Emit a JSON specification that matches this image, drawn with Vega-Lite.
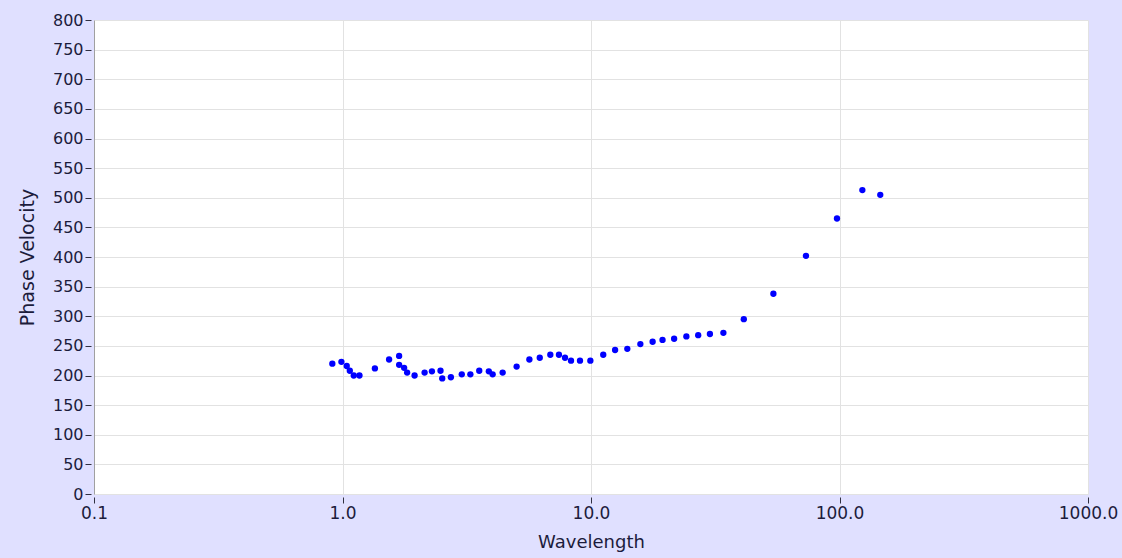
{
  "$schema": "https://vega.github.io/schema/vega-lite/v6.json",
  "width": 994,
  "height": 474,
  "autosize": {"type": "none"},
  "padding": {"left": 94, "top": 20, "right": 34, "bottom": 64},
  "background": "#E0E0FF",
  "config": {
    "view": {"fill": "white", "stroke": null},
    "font": "DejaVu Sans"
  },
  "data": {
    "values": [
      {"wavelength": 0.91, "velocity": 220},
      {"wavelength": 0.99, "velocity": 223},
      {"wavelength": 1.04, "velocity": 216},
      {"wavelength": 1.07, "velocity": 208},
      {"wavelength": 1.11, "velocity": 200},
      {"wavelength": 1.17, "velocity": 200},
      {"wavelength": 1.35, "velocity": 212},
      {"wavelength": 1.54, "velocity": 227},
      {"wavelength": 1.69, "velocity": 233},
      {"wavelength": 1.69, "velocity": 218},
      {"wavelength": 1.77, "velocity": 213},
      {"wavelength": 1.82, "velocity": 205},
      {"wavelength": 1.95, "velocity": 200},
      {"wavelength": 2.14, "velocity": 205},
      {"wavelength": 2.29, "velocity": 207},
      {"wavelength": 2.48, "velocity": 208},
      {"wavelength": 2.52, "velocity": 195},
      {"wavelength": 2.73, "velocity": 197},
      {"wavelength": 3.02, "velocity": 202},
      {"wavelength": 3.27, "velocity": 202},
      {"wavelength": 3.55, "velocity": 208},
      {"wavelength": 3.88, "velocity": 207},
      {"wavelength": 4.02, "velocity": 202},
      {"wavelength": 4.41, "velocity": 205},
      {"wavelength": 5.02, "velocity": 215},
      {"wavelength": 5.65, "velocity": 227},
      {"wavelength": 6.22, "velocity": 230},
      {"wavelength": 6.86, "velocity": 235},
      {"wavelength": 7.43, "velocity": 235},
      {"wavelength": 7.86, "velocity": 230},
      {"wavelength": 8.31, "velocity": 225},
      {"wavelength": 9.03, "velocity": 225},
      {"wavelength": 9.94, "velocity": 225},
      {"wavelength": 11.2, "velocity": 235},
      {"wavelength": 12.5, "velocity": 243},
      {"wavelength": 14.0, "velocity": 245},
      {"wavelength": 15.8, "velocity": 253},
      {"wavelength": 17.7, "velocity": 257},
      {"wavelength": 19.4, "velocity": 260},
      {"wavelength": 21.6, "velocity": 262},
      {"wavelength": 24.2, "velocity": 266},
      {"wavelength": 27.0, "velocity": 268},
      {"wavelength": 30.1, "velocity": 270},
      {"wavelength": 34.1, "velocity": 272},
      {"wavelength": 41.2, "velocity": 295},
      {"wavelength": 54.2, "velocity": 338},
      {"wavelength": 73.3, "velocity": 402},
      {"wavelength": 97.7, "velocity": 465},
      {"wavelength": 123.6, "velocity": 513},
      {"wavelength": 145.9, "velocity": 505}
    ]
  },
  "mark": {"type": "point", "filled": true, "opacity": 1, "color": "#0000FF", "size": 40, "shape": "circle"},
  "encoding": {
    "x": {
      "field": "wavelength",
      "type": "quantitative",
      "scale": {"type": "log", "domain": [0.1, 1000], "nice": false},
      "axis": {
        "title": "Wavelength",
        "values": [0.1, 1, 10, 100, 1000],
        "format": ".1f",
        "grid": true,
        "gridColor": "#E2E2E2",
        "domain": false,
        "tickColor": "#303040",
        "tickSize": 9,
        "tickDash": [0, 3, 6, 100],
        "labelPadding": 2,
        "labelFontSize": 17,
        "labelColor": "#1c1c3c",
        "labelFlush": false,
        "labelOverlap": false,
        "titleFontSize": 18,
        "titleFontWeight": "normal",
        "titleColor": "#1c1c3c",
        "titleBaseline": "alphabetic",
        "titleX": 497,
        "titleY": 53
      }
    },
    "y": {
      "field": "velocity",
      "type": "quantitative",
      "scale": {"domain": [0, 800], "nice": false},
      "axis": {
        "title": "Phase Velocity",
        "values": [0, 50, 100, 150, 200, 250, 300, 350, 400, 450, 500, 550, 600, 650, 700, 750, 800],
        "grid": true,
        "gridColor": "#E2E2E2",
        "domain": true,
        "domainColor": "#A0A0A0",
        "tickColor": "#303040",
        "tickSize": 9,
        "tickDash": [0, 3, 6, 100],
        "labelPadding": 2,
        "labelFontSize": 16,
        "labelColor": "#1c1c3c",
        "labelFlush": false,
        "labelOverlap": false,
        "titleFontSize": 19,
        "titleFontWeight": "normal",
        "titleColor": "#1c1c3c",
        "titleBaseline": "alphabetic",
        "titleAngle": -90,
        "titleX": -61,
        "titleY": 237
      }
    }
  }
}
